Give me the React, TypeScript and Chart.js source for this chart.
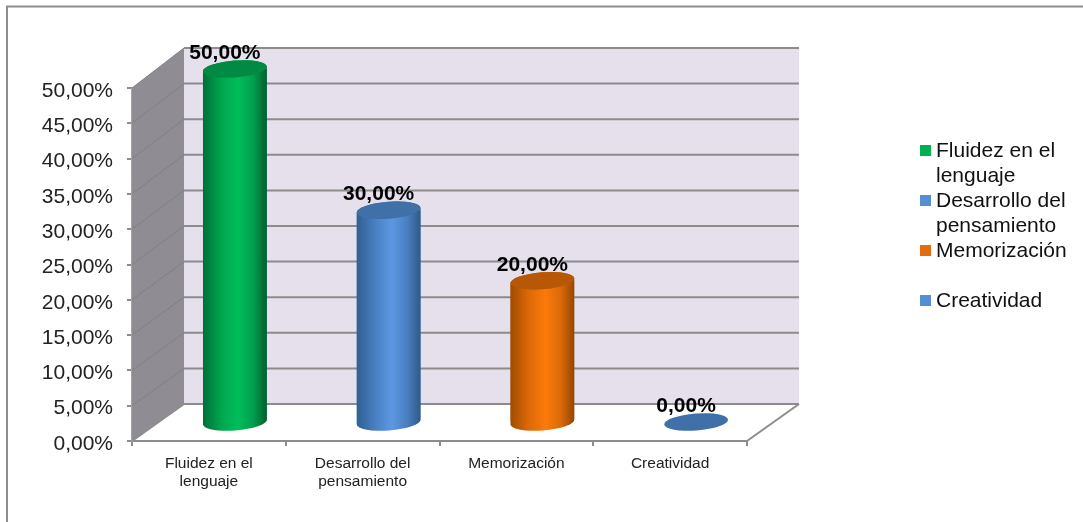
import React, { useEffect, useRef } from "react";
import { Chart, registerables } from "chart.js";

Chart.register(...registerables);

const categories = [["Fluidez en el", "lenguaje"], ["Desarrollo del", "pensamiento"], ["Memorización"], ["Creatividad"]];
const values = [50, 30, 20, 0];
const yTicks = { min: 0, max: 50, step: 5 };
const legendLines = [["Fluidez en el", "lenguaje"], ["Desarrollo del", "pensamiento"], ["Memorización"], [""], ["Creatividad"]];
const swatchColors = ["#00b050", "#558ed5", "#e46c0a", "#558ed5"];
const bodyStops = [
  ["#006f38", "#00a850", "#00bd5a", "#00a04e", "#005f30"],
  ["#2f5f94", "#4a80c4", "#5c98e2", "#4a80c2", "#2f5a88"],
  ["#a04c00", "#e06a08", "#fb7a0a", "#dd6a08", "#934700"],
  ["#2f5f94", "#4a80c4", "#5c98e2", "#4a80c2", "#2f5a88"],
];
const topColors = ["#008a44", "#3f70a8", "#b65805", "#3f70a8"];

const fmt = (v: number) => v.toFixed(2).replace(".", ",") + "%";
const FONT = '"Liberation Sans", Arial, sans-serif';
const DX = 52, DY_BOTTOM = -37, DY_TOP = -40, BX = 26, BY = -19, RX = 32, RY = 8.5, ROT = (-4.5 * Math.PI) / 180, BAR_PCT = 64 / 153.75;
const depthY = (v: number) => DY_BOTTOM + ((DY_TOP - DY_BOTTOM) * v) / yTicks.max;

const capsule = (c: any, x: number, top: number, base: number) => {
  c.ellipse(x, top, RX, RY, ROT, Math.PI, Math.PI * 2);
  c.ellipse(x, base, RX, RY, ROT, 0, Math.PI);
  c.closePath();
};

const cylinderPlugin = {
  id: "cylinder",
  beforeDraw(chart: any) {
    const c = chart.ctx;
    c.save();
    c.fillStyle = "#fff";
    c.fillRect(0, 0, chart.width, chart.height);
    c.strokeStyle = "#8e8e8e";
    c.lineWidth = 2;
    c.beginPath();
    c.moveTo(7, chart.height);
    c.lineTo(7, 6.5);
    c.lineTo(chart.width, 6.5);
    c.stroke();
    c.restore();
  },
  beforeDatasetsDraw(chart: any) {
    const c = chart.ctx, y = chart.scales.y, a = chart.chartArea;
    const y0 = y.getPixelForValue(yTicks.min), yT = y.getPixelForValue(yTicks.max);
    const by0 = y0 + depthY(yTicks.min), byT = yT + depthY(yTicks.max);
    c.save();
    c.fillStyle = "#e5e0ec";
    c.fillRect(a.left + DX, byT, a.right - a.left, by0 - byT);
    c.fillStyle = "#8f8d93";
    c.beginPath();
    c.moveTo(a.left, yT); c.lineTo(a.left + DX, byT); c.lineTo(a.left + DX, by0); c.lineTo(a.left, y0);
    c.closePath();
    c.fill();
    y.ticks.forEach((t: any) => {
      const py = y.getPixelForValue(t.value), d = depthY(t.value);
      c.strokeStyle = t.value === yTicks.min ? "#8c8c8c" : "#807f83";
      c.lineWidth = t.value === yTicks.min ? 2 : 1;
      c.beginPath(); c.moveTo(a.left, py); c.lineTo(a.left + DX, py + d); c.stroke();
      c.strokeStyle = "#8c8c8c";
      c.lineWidth = 2;
      c.beginPath(); c.moveTo(a.left + DX, py + d); c.lineTo(a.right + DX, py + d); c.stroke();
    });
    c.strokeStyle = "#8c8c8c";
    c.lineWidth = 2;
    c.beginPath(); c.moveTo(a.right, y0); c.lineTo(a.right + DX, by0); c.stroke();
    c.restore();
  },
  beforeDatasetDraw(chart: any) {
    const c = chart.ctx, meta = chart.getDatasetMeta(0), base = chart.scales.y.getPixelForValue(0);
    c.save();
    c.translate(BX, BY);
    c.beginPath();
    meta.data.forEach((bar: any, i: number) => {
      if (values[i] > 0) { c.moveTo(bar.x - RX, bar.y); capsule(c, bar.x, bar.y, base); }
    });
    c.clip();
  },
  afterDatasetDraw(chart: any) {
    const c = chart.ctx, meta = chart.getDatasetMeta(0), base = chart.scales.y.getPixelForValue(0);
    c.restore();
    c.save();
    c.translate(BX, BY);
    meta.data.forEach((bar: any, i: number) => {
      if (values[i] > 0) {
        c.fillStyle = bar.options.backgroundColor;
        c.beginPath();
        capsule(c, bar.x, bar.y, base);
        c.fill();
      }
      c.fillStyle = topColors[i];
      c.beginPath();
      c.ellipse(bar.x, bar.y, RX, RY, ROT, 0, Math.PI * 2);
      c.fill();
    });
    c.restore();
    c.save();
    c.fillStyle = "#000";
    c.font = `bold 21px ${FONT}`;
    c.textAlign = "center";
    c.textBaseline = "middle";
    meta.data.forEach((bar: any, i: number) => {
      c.fillText(fmt(values[i]), bar.x + 16, bar.y + BY - 15.5);
    });
    c.restore();
  },
  afterDraw(chart: any) {
    const c = chart.ctx;
    c.save();
    c.font = `21px ${FONT}`;
    c.textBaseline = "middle";
    c.textAlign = "left";
    let yy = 150, s = 0;
    legendLines.forEach((lines) => {
      if (lines[0]) {
        c.fillStyle = swatchColors[s++];
        c.fillRect(920, yy - 5, 11, 11);
      }
      lines.forEach((line) => {
        c.fillStyle = "#111";
        if (line) c.fillText(line, 936, yy + 1);
        yy += 25;
      });
    });
    c.restore();
  },
};

export default function App() {
  const ref = useRef<HTMLCanvasElement>(null);
  useEffect(() => {
    document.body.style.margin = "0";
    const chart = new Chart(ref.current!, {
      type: "bar",
      data: {
        labels: categories as any,
        datasets: [{
          data: values,
          clip: false as any,
          borderWidth: 0,
          barPercentage: BAR_PCT,
          categoryPercentage: 1,
          backgroundColor: (ctx: any) => {
            const x = ctx.chart.scales.x?.getPixelForValue(ctx.dataIndex);
            if (ctx.dataIndex === undefined || !Number.isFinite(x)) return swatchColors[0];
            const g = ctx.chart.ctx.createLinearGradient(x - RX, 0, x + RX, 0);
            const st = bodyStops[ctx.dataIndex] || bodyStops[0];
            [0, 0.3, 0.55, 0.78, 1].forEach((p, k) => g.addColorStop(p, st[k]));
            return g;
          },
        }],
      },
      options: {
        responsive: false,
        animation: false,
        layout: { padding: { top: 88, right: 336, left: 0, bottom: 0 } },
        plugins: { legend: { display: false }, tooltip: { enabled: false } },
        scales: {
          x: {
            offset: true,
            afterFit: (s: any) => { s.height = 81; },
            grid: { drawOnChartArea: false, drawTicks: true, tickLength: 5, color: "#8c8c8c", lineWidth: 2, offset: true },
            border: { display: true, color: "#8c8c8c", width: 2 },
            ticks: { autoSkip: false, maxRotation: 0, color: "#222", padding: 9, font: { family: FONT, size: 15.5, lineHeight: 1.16 } },
          },
          y: {
            min: yTicks.min,
            max: yTicks.max,
            afterFit: (s: any) => { s.width = 132; },
            grid: { drawOnChartArea: false, drawTicks: true, tickLength: 5, color: "#8c8c8c", lineWidth: 2 },
            border: { display: true, color: "#a4a4a6", width: 2 },
            ticks: { stepSize: yTicks.step, color: "#222", padding: 14, labelOffset: 3, font: { family: FONT, size: 21 }, callback: (v: any) => fmt(Number(v)) },
          },
        },
      },
      plugins: [cylinderPlugin],
    } as any);
    return () => chart.destroy();
  }, []);
  return <canvas ref={ref} width={1083} height={522} style={{ display: "block" }} />;
}
